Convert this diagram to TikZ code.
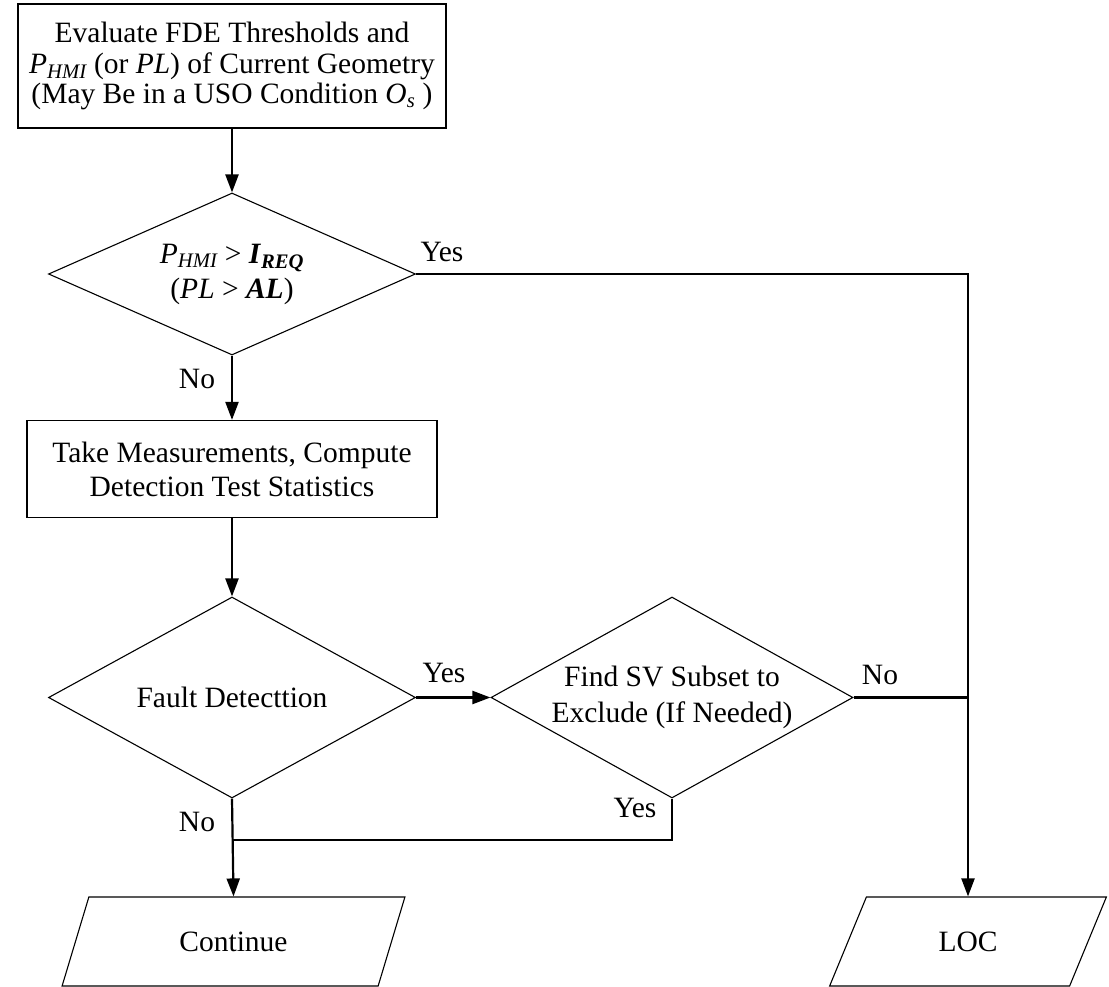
\documentclass[tikz,border=0pt]{standalone}
\usepackage{fontspec}
\setmainfont{Liberation Serif}
\usetikzlibrary{shapes.geometric,arrows.meta}
\newcommand\isub[1]{\textsubscript{\itshape #1}}
\newcommand\bisub[1]{\textsubscript{\bfseries\itshape #1}}
\begin{document}
\begin{tikzpicture}[x=1pt,y=-1pt,
  every node/.style={font=\fontsize{29.5}{33}\selectfont},
  procbox/.style={draw, line width=1.2pt, rectangle, align=center, inner sep=0pt},
  decision/.style={draw, line width=1.1pt, diamond, align=center, inner sep=0pt},
  terminal/.style={draw, line width=1.1pt, trapezium, trapezium stretches=true,
    inner sep=0pt, minimum height=89pt},
  flow/.style={line width=2.2pt, -{Triangle[length=18pt,width=13pt]}},
  link/.style={line width=2.2pt},
  tag/.style={inner sep=0pt}]
\useasboundingbox (0,0) rectangle (1109,987);

% process boxes
\node[procbox, minimum width=428pt, minimum height=124pt,
      font=\fontsize{29.5}{30.5}\selectfont] (eval) at (232,66)
  {Evaluate FDE Thresholds and\\
   \textit{P}\isub{HMI} (or \textit{PL}) of Current Geometry\\
   (May Be in a USO Condition \textit{O}\isub{s} )};
\node[procbox, minimum width=410pt, minimum height=97pt,
      font=\fontsize{29.5}{34}\selectfont] (meas) at (232,469)
  {Take Measurements, Compute\\Detection Test Statistics};

% decisions
\node[decision, shape aspect=2.27, minimum width=367pt, minimum height=162pt,
      font=\fontsize{29.5}{35}\selectfont] (integ) at (232,274)
  {\textit{P}\isub{HMI} > \textbf{\textit{I}}\bisub{REQ}\\
   (\textit{PL} > \textbf{\textit{AL}})};
\node[decision, shape aspect=1.83, minimum width=367pt, minimum height=201pt] (fd) at (232,697.5)
  {Fault Detecttion};
\node[decision, shape aspect=1.8, minimum width=362pt, minimum height=201pt,
      font=\fontsize{29.5}{36}\selectfont] (excl) at (672,697.5)
  {Find SV Subset to\\Exclude (If Needed)};

% outcomes
\node[terminal, trapezium left angle=63.2, trapezium right angle=116.8,
      minimum width=343pt] (cont) at (233.5,941.5) {Continue};
\node[terminal, trapezium left angle=61.7, trapezium right angle=118.3,
      minimum width=278pt] (loc) at (968,941.5) {LOC};

% routing points
\coordinate (merge) at (232,840);

% connectors
\draw[flow] (eval) -- (integ);
\draw[flow] (integ) -- (meas);
\draw[flow] (meas) -- (fd);
\draw[flow] (fd) -- (excl);
\draw[flow] (integ.east) -- (integ.east -| loc.north) -- (loc.north);
\draw[link] (excl.east) -- (excl.east -| loc.north);
\draw[link] (excl.south) |- (merge);
\draw[flow] (fd.south) -- (cont.north);

% branch labels
\node[tag] (yes1) at (442,252) {Yes};
\node[tag] (no1) at (197,379) {No};
\node[tag] (yes2) at (444,673) {Yes};
\node[tag] (no2) at (880,675) {No};
\node[tag] (yes3) at (635,808) {Yes};
\node[tag] (no3) at (197,822) {No};
\end{tikzpicture}
\end{document}
